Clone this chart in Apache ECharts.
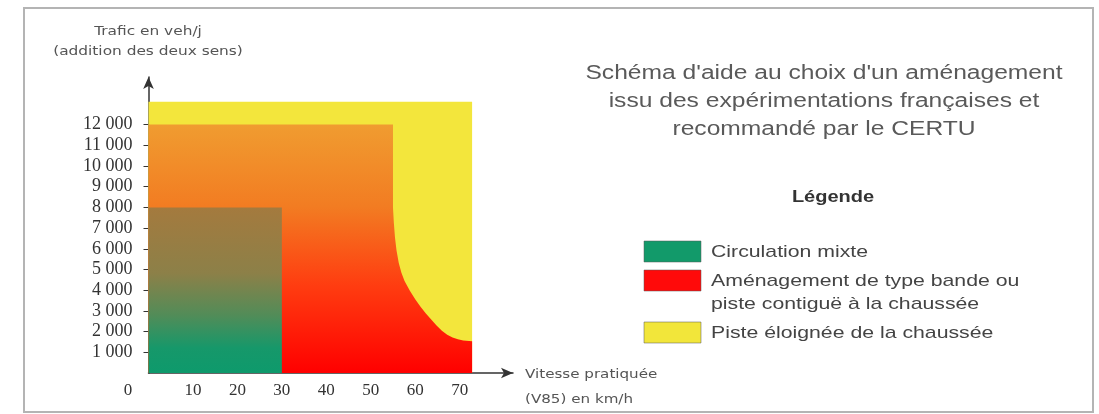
<!DOCTYPE html>
<html>
<head>
<meta charset="utf-8">
<script src="https://cdn.jsdelivr.net/npm/echarts@6/dist/echarts.min.js"></script>
<style>
  html, body { margin: 0; padding: 0; background: #fff; }
  #chart { width: 1099px; height: 414px; }
</style>
</head>
<body>
<div id="chart"></div>
<script>
  // zones (vitesse km/h, trafic veh/j)
  const mixteZone = [[0, 8000], [30, 8000]];
  const bandeZone = [
    [0, 12000], [55, 12000], [55, 8000], [55.2, 7250], [55.45, 6550], [55.8, 5920],
    [56.3, 5320], [56.9, 4840], [57.6, 4450], [58.8, 3970], [60, 3560], [61.2, 3200],
    [62.4, 2880], [63.6, 2580], [64.8, 2300], [66, 2040], [67.2, 1850], [68.4, 1720],
    [69.6, 1630], [70.8, 1575], [72.8, 1535]
  ];
  const pisteZone = [[0, 13100], [72.8, 13100]];

  const xTicks = [10, 20, 30, 40, 50, 60, 70];
  const yTicks = [1000, 2000, 3000, 4000, 5000, 6000, 7000, 8000, 9000, 10000, 11000, 12000];

  const yName = ['Trafic en veh/j', '(addition des deux sens)'];
  const xName = ['Vitesse pratiquée', '(V85) en km/h'];
  const titleLines = [
    "Schéma d'aide au choix d'un aménagement",
    'issu des expérimentations françaises et',
    'recommandé par le CERTU'
  ];
  const legendTitle = 'Légende';
  const legendLabels = [
    'Circulation mixte',
    'Aménagement de type bande ou\npiste contiguë à la chaussée',
    'Piste éloignée de la chaussée'
  ];
  const legendColors = ['#129a6a', '#ff0a0a', '#f2e63a'];

  let myChart = echarts.init(document.getElementById('chart'));

  // graphic : cadre, titres, legende
  let graphic = [
    {
      type: 'rect',
      shape: { x: 24, y: 8, width: 1069, height: 404 },
      style: { fill: 'none', stroke: '#b4b4b4', lineWidth: 2 },
      silent: true
    },
    {
      type: 'text', x: 128, y: 391,
      style: { text: '0', font: '17px "Liberation Serif"', fill: '#333', align: 'center', verticalAlign: 'middle' }
    }
  ];
  yName.forEach((t, i) => {
    graphic.push({
      type: 'text', x: 148, y: 32 + i * 20, scaleX: 1.28,
      style: { text: t, font: '12px "DejaVu Sans"', fill: '#555', align: 'center', verticalAlign: 'middle' }
    });
  });
  xName.forEach((t, i) => {
    graphic.push({
      type: 'text', x: 525, y: 375 + i * 25, scaleX: 1.26,
      style: { text: t, font: '12px "DejaVu Sans"', fill: '#555', align: 'left', verticalAlign: 'middle' }
    });
  });
  titleLines.forEach((t, i) => {
    graphic.push({
      type: 'text', x: 824, y: 73 + i * 28, scaleX: 1.23,
      style: { text: t, font: '20px "Liberation Sans"', fill: '#5a5a5a', align: 'center', verticalAlign: 'middle' }
    });
  });
  graphic.push({
    type: 'text', x: 833, y: 198, scaleX: 1.25,
    style: { text: legendTitle, font: 'bold 16px "Liberation Sans"', fill: '#333', align: 'center', verticalAlign: 'middle' }
  });
  let ly = 252;
  legendLabels.forEach((label, i) => {
    let lines = label.split('\n').length;
    graphic.push({
      type: 'rect',
      shape: { x: 644, y: ly - 11, width: 57, height: 21 },
      style: { fill: legendColors[i], stroke: 'rgba(90,90,90,0.5)', lineWidth: 1 }
    });
    graphic.push({
      type: 'text', x: 711, y: ly - 11.5, scaleX: 1.25,
      style: { text: label, font: '17px "Liberation Sans"', lineHeight: 23, fill: '#444', align: 'left', verticalAlign: 'top' }
    });
    ly += lines * 23 + 6;
  });

  let option = {
    animation: false,
    grid: { left: 148.5, right: 586, top: 77, bottom: 41 },
    xAxis: {
      type: 'value',
      min: 0,
      max: 82,
      axisLine: { lineStyle: { color: '#333', width: 1.5 }, symbol: ['none', 'arrow'], symbolSize: [8, 12] },
      axisTick: { inside: true, length: 4, customValues: xTicks, lineStyle: { color: '#333' } },
      axisLabel: { customValues: xTicks, fontFamily: 'Liberation Serif', fontSize: 17, color: '#333', margin: 9 },
      splitLine: { show: false }
    },
    yAxis: {
      type: 'value',
      min: 0,
      max: 14300,
      axisLine: { lineStyle: { color: '#333', width: 1.5 }, symbol: ['none', 'arrow'], symbolSize: [8, 12] },
      axisTick: { length: 5, customValues: yTicks, lineStyle: { color: '#333' } },
      axisLabel: {
        customValues: yTicks, fontFamily: 'Liberation Serif', fontSize: 18, color: '#333', margin: 16,
        formatter: v => String(v).replace(/\B(?=(\d{3})+(?!\d))/g, ' ')
      },
      splitLine: { show: false }
    },
    series: [
      {
        name: legendLabels[2],
        type: 'line',
        data: pisteZone,
        showSymbol: false,
        silent: true,
        lineStyle: { width: 0 },
        areaStyle: { color: '#f3e63c', opacity: 1 },
        z: 1
      },
      {
        name: legendLabels[1],
        type: 'line',
        data: bandeZone,
        showSymbol: false,
        silent: true,
        lineStyle: { width: 0 },
        areaStyle: {
          opacity: 1,
          color: new echarts.graphic.LinearGradient(0, 0, 0, 1, [
            { offset: 0, color: '#f09c30' },
            { offset: 0.33, color: '#f27c22' },
            { offset: 0.65, color: '#ff3c10' },
            { offset: 1, color: '#ff0000' }
          ])
        },
        z: 2
      },
      {
        name: legendLabels[0],
        type: 'line',
        data: mixteZone,
        showSymbol: false,
        silent: true,
        lineStyle: { width: 0 },
        areaStyle: {
          opacity: 1,
          color: new echarts.graphic.LinearGradient(0, 0, 0, 1, [
            { offset: 0, color: '#a47a3e' },
            { offset: 0.4, color: '#8c8048' },
            { offset: 0.65, color: '#528c58' },
            { offset: 0.85, color: '#16986a' },
            { offset: 1, color: '#0e9a6c' }
          ])
        },
        z: 3
      }
    ],
    graphic: graphic
  };

  myChart.setOption(option);
  window.addEventListener('resize', myChart.resize);
</script>
</body>
</html>
